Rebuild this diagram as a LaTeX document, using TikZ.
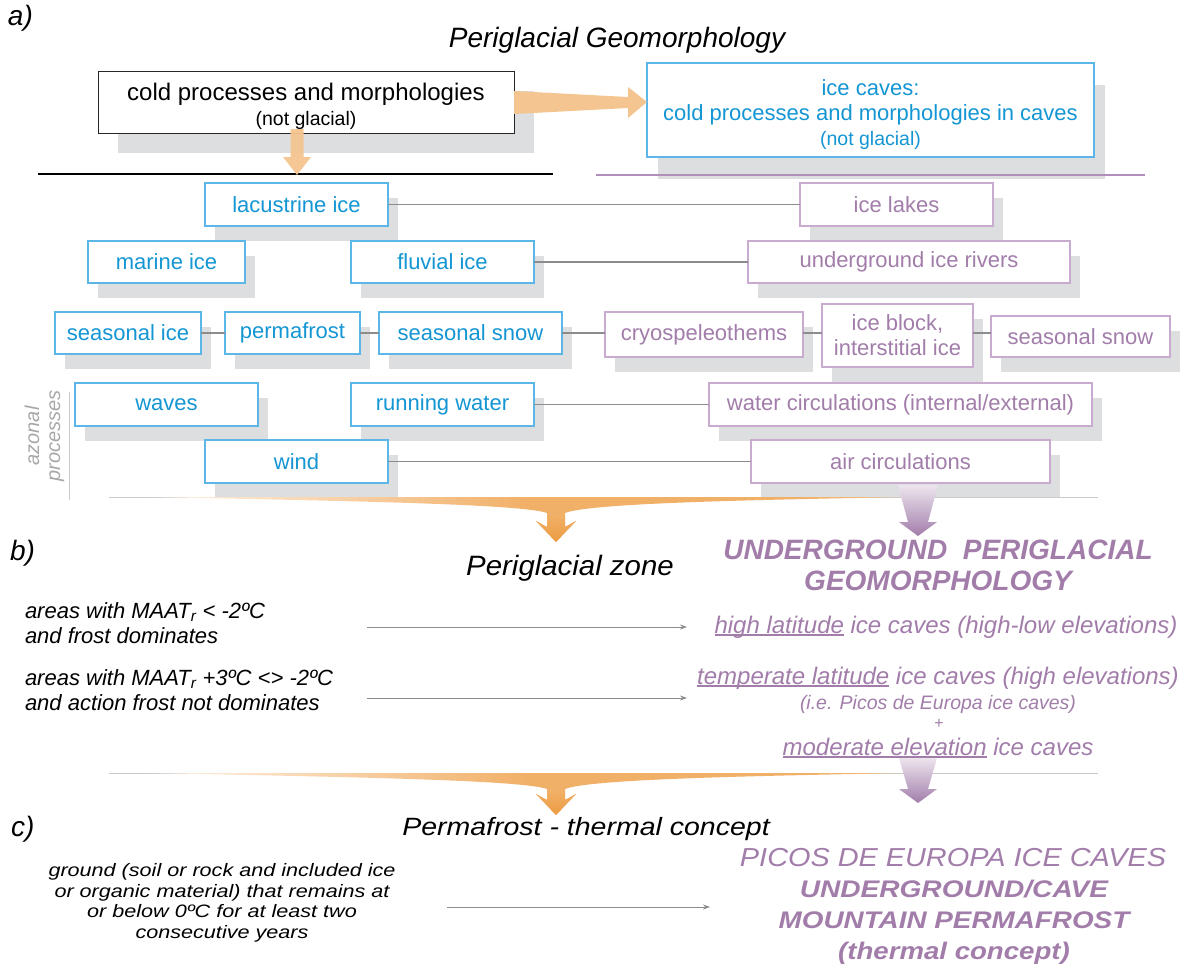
\documentclass[tikz,border=0pt]{standalone}
\usepackage{fontspec}
\setmainfont{Liberation Sans}
\usepackage{graphicx}
\usetikzlibrary{shadows,arrows.meta,calc}
\newcommand{\myul}[1]{\leavevmode\setbox0\hbox{#1}\rlap{\rule[-2.5pt]{\wd0}{1.1pt}}\box0\relax}
\definecolor{cblue}{HTML}{1496D4}
\definecolor{bblue}{HTML}{5DB6E8}
\definecolor{cpurp}{HTML}{A27DAA}
\definecolor{bpurp}{HTML}{C9ABCF}
\definecolor{lpurp}{HTML}{B28FBA}
\definecolor{cgray}{HTML}{8C8C8C}
\definecolor{lgray}{HTML}{CACACA}
\definecolor{azg}{HTML}{A8A8A8}
\definecolor{shad}{HTML}{DDDEE0}
\definecolor{oarr}{HTML}{F4C590}
\definecolor{ofunA}{HTML}{FEF3E7}
\definecolor{ofunB}{HTML}{F1B068}
\definecolor{ofunC}{HTML}{F4BE82}
\definecolor{ohead}{HTML}{EC9B40}
\definecolor{ptop}{HTML}{ECE5EE}
\definecolor{pbot}{HTML}{A27DAA}
\pgfdeclarehorizontalshading{funnelshade}{100bp}{color(0bp)=(ofunA); color(25bp)=(ofunA); color(50bp)=(ofunB); color(68bp)=(ofunB); color(75bp)=(ofunC); color(100bp)=(ofunC)}
\tikzset{
  every node/.style={inner sep=0pt, outer sep=0pt},
  box/.style={draw, line width=1.2pt, fill=white, align=center, font=\fontsize{22}{25}\selectfont},
  smallshadow/.style={drop shadow={shadow xshift=10pt, shadow yshift=-15pt, fill=shad, opacity=1}},
  bigshadow/.style={drop shadow={shadow xshift=20pt, shadow yshift=-20pt, fill=shad, opacity=1}},
  midshadow/.style={drop shadow={shadow xshift=11pt, shadow yshift=-22pt, fill=shad, opacity=1}},
  bluebox/.style={box, smallshadow, draw=bblue, text=cblue},
  purpbox/.style={box, smallshadow, draw=bpurp, text=cpurp},
  link/.style={draw=cgray, line width=1.1pt},
  garrow/.style={draw=cgray, line width=1pt, -{Stealth[length=7pt, width=5pt]}},
  lbl/.style={font=\itshape\fontsize{28}{30}\selectfont},
  btxt/.style={font=\itshape\fontsize{22}{24}\selectfont},
  ptitle/.style={text=cpurp, font=\bfseries\itshape\fontsize{28}{30}\selectfont},
  ptxt/.style={text=cpurp, font=\itshape\fontsize{24}{26}\selectfont},
  psmall/.style={text=cpurp, font=\itshape\fontsize{19.5}{22}\selectfont},
  pbold/.style={text=cpurp, font=\bfseries\itshape\fontsize{24}{26}\selectfont},
}
\begin{document}
\begin{tikzpicture}[x=1pt,y=-1pt]
\fill[white] (0,0) rectangle (1193,964);
\useasboundingbox (0,0) rectangle (1193,964);

% ---------- a) ----------
\node[lbl, anchor=base west] (la) at (8,25) {a)};
\node[lbl, anchor=base] (tA) at (617,47) {Periglacial Geomorphology};

\draw[lgray, line width=1pt] (69,392) -- (69,500);

\node[box, bigshadow, draw=black!85, line width=1pt, minimum width=416pt, minimum height=62pt] (cold) at (306,102)
  {\rule{0pt}{27pt}\fontsize{24}{25}\selectfont cold processes and morphologies\\{\fontsize{19.5}{22}\selectfont (not glacial)}};
\node[box, midshadow, draw=bblue, text=cblue, minimum width=447pt, minimum height=94pt] (icecaves) at (870.5,110)
  {\rule{0pt}{26pt}ice caves:\\cold processes and morphologies in caves\\{\fontsize{19.5}{22}\selectfont (not glacial)}};

% blue boxes
\node[bluebox, minimum width=183pt, minimum height=43pt] (lac) at (296.5,204.5) {lacustrine ice};
\node[bluebox, minimum width=157pt, minimum height=42pt] (mar) at (166.5,262) {marine ice};
\node[bluebox, minimum width=183pt, minimum height=42pt] (flu) at (442.5,262) {fluvial ice};
\node[bluebox, minimum width=146pt, minimum height=42pt] (sice) at (128,333) {seasonal ice};
\node[bluebox, minimum width=135pt, minimum height=42pt] (perm) at (292.5,333) {permafrost};
\node[bluebox, minimum width=183pt, minimum height=42pt] (ssnow) at (470.5,333) {seasonal snow};
\node[bluebox, minimum width=183pt, minimum height=43pt] (wav) at (166.5,404.5) {waves};
\node[bluebox, minimum width=183pt, minimum height=43pt] (run) at (442.5,404.5) {running water};
\node[bluebox, minimum width=183pt, minimum height=43pt] (wind) at (296.5,461.5) {wind};

% purple boxes
\node[purpbox, minimum width=193pt, minimum height=43pt] (lakes) at (896.5,204.5) {ice lakes};
\node[purpbox, minimum width=322pt, minimum height=42pt] (rivers) at (909,262) {underground ice rivers};
\node[purpbox, minimum width=198pt, minimum height=45pt] (cryo) at (704,334.5) {cryospeleothems};
\node[purpbox, minimum width=151pt, minimum height=63pt] (iblock) at (897.5,335.5) {ice block,\\interstitial ice};
\node[purpbox, minimum width=179pt, minimum height=41pt] (psnow) at (1080.5,336.5) {seasonal snow};
\node[purpbox, minimum width=383pt, minimum height=43pt] (wcirc) at (900.5,404.5) {water circulations (internal/external)};
\node[purpbox, minimum width=299pt, minimum height=43pt] (acirc) at (900.5,461.5) {air circulations};

\node[rotate=90, align=center, text=azg, font=\itshape\fontsize{20}{21}\selectfont] (az) at (44.5,436) {azonal\\processes};

% separator lines
\draw[line width=1.8pt] (38,174) -- (553,174);
\draw[lpurp, line width=1.5pt] (596,175) -- (1145,175);
\draw[lgray, line width=1pt] (109,497) -- (1098,497);
\draw[lgray, line width=1pt] (109,773) -- (1098,773);

% connectors
\draw[link] (lac.east) -- (lac.east -| lakes.west);
\draw[link] (flu.east) -- (flu.east -| rivers.west);
\draw[link] (sice.east) -- (sice.east -| perm.west);
\draw[link] (perm.east) -- (perm.east -| ssnow.west);
\draw[link] (ssnow.east) -- (ssnow.east -| cryo.west);
\draw[link] (ssnow.east -| cryo.east) -- (ssnow.east -| iblock.west);
\draw[link] (ssnow.east -| iblock.east) -- (ssnow.east -| psnow.west);
\draw[link] (run.east) -- (run.east -| wcirc.west);
\draw[link] (wind.east) -- (wind.east -| acirc.west);

% orange arrows (top)
\coordinate (rt) at (cold.east -| icecaves.west);
\fill[oarr] ([yshift=11pt]cold.east) -- ($(rt)+(-19,-5)$) -- ($(rt)+(-19,-15)$) -- (rt)
  -- ($(rt)+(-19,16)$) -- ($(rt)+(-19,6)$) -- ([yshift=-12pt]cold.east) -- cycle;
\fill[oarr, opacity=.95] (290.5,129) -- (303.5,129) -- (303.5,157) -- (311,157) -- (297,175) -- (283,157) -- (290.5,157) -- cycle;

% funnels
\shade[shading=funnelshade] (150,497) -- (905,497) .. controls (750,500) and (590,503) .. (565,513)
  -- (565,527) -- (576,521) -- (556,542) -- (536,521) -- (547,527) -- (547,513)
  .. controls (522,504) and (350,501) .. (150,497) -- cycle;
\shade[top color=ofunB, bottom color=ohead] (547,515) -- (565,515) -- (565,527) -- (576,521) -- (556,542) -- (536,521) -- (547,527) -- cycle;
\begin{scope}[shift={(0,276)}]
\shade[shading=funnelshade] (150,497) -- (905,497) .. controls (750,500) and (590,503) .. (565,513)
  -- (565,524) -- (576,518) -- (556,539) -- (536,518) -- (547,524) -- (547,513)
  .. controls (522,504) and (350,501) .. (150,497) -- cycle;
\shade[top color=ofunB, bottom color=ohead] (547,515) -- (565,515) -- (565,524) -- (576,518) -- (556,539) -- (536,518) -- (547,524) -- cycle;
\end{scope}
\shade[top color=ptop, bottom color=pbot] (898,485) -- (938,485) -- (928,522) -- (937,522) -- (918,536) -- (899,522) -- (908,522) -- cycle;
\shade[top color=ptop, bottom color=pbot] (899,758) -- (937,758) -- (928,789) -- (937,789) -- (918,803) -- (899,789) -- (908,789) -- cycle;

% ---------- b) ----------
\node[lbl, anchor=base west] (lb) at (10,560) {b)};
\node[lbl, anchor=base] (pz) at (570,575) {\scalebox{1.05}[1]{Periglacial zone}};
\node[btxt, anchor=base west] (ar1) at (25,618) {areas with MAAT\textsubscript{r} < -2ºC};
\node[btxt, anchor=base west] (ar1b) at (25,643) {and frost dominates};
\node[btxt, anchor=base west] (ar2) at (25,685) {areas with MAAT\textsubscript{r} +3ºC <> -2ºC};
\node[btxt, anchor=base west] (ar2b) at (25,710) {and action frost not dominates};

\node[ptitle, anchor=base] (ug1) at (938,559) {UNDERGROUND~~PERIGLACIAL};
\node[ptitle, anchor=base] (ug2) at (938,590) {GEOMORPHOLOGY};
\node[ptxt, anchor=base] (hl) at (946,633) {\myul{high latitude} ice caves (high-low elevations)};
\node[ptxt, anchor=base] (tl) at (938,684) {\myul{temperate latitude} ice caves (high elevations)};
\node[psmall, anchor=base] (ie) at (938,709) {(i.e. Picos de Europa ice caves)};
\node[text=cpurp, font=\fontsize{16}{18}\selectfont] (plus) at (939,724) {+};
\node[ptxt, anchor=base] (mod) at (938,755) {\myul{moderate elevation} ice caves};

\coordinate (b1s) at (367,627);
\coordinate (b1e) at (687,627);
\coordinate (b2s) at (367,698);
\coordinate (b2e) at (687,698);
\draw[garrow] (b1s) -- (b1e);
\draw[garrow] (b2s) -- (b2e);

% ---------- c) ----------
\node[lbl, anchor=base west] (lc) at (11,836) {c)};
\node[font=\itshape\fontsize{25}{27}\selectfont, anchor=base] (pf) at (586,835) {\scalebox{1.14}[1]{Permafrost - thermal concept}};
\node[font=\itshape\fontsize{18}{20.5}\selectfont] (gr) at (222,903.5) {\scalebox{1.2}[1]{\begin{tabular}{@{}c@{}}ground (soil or rock and included ice\\or organic material) that remains at\\or below 0ºC for at least two\\consecutive years\end{tabular}}};
\coordinate (c1s) at (447,907);
\coordinate (c1e) at (710,907);
\draw[garrow] (c1s) -- (c1e);

\node[text=cpurp, font=\itshape\fontsize{26}{28}\selectfont, anchor=base] (pe1) at (953,866) {\scalebox{1.11}[1]{PICOS DE EUROPA ICE CAVES}};
\node[pbold, anchor=base] (pe2) at (954,897) {\scalebox{1.17}[1]{UNDERGROUND/CAVE}};
\node[pbold, anchor=base] (pe3) at (954,928) {\scalebox{1.16}[1]{MOUNTAIN PERMAFROST}};
\node[pbold, anchor=base] (pe4) at (954,959) {\scalebox{1.15}[1]{(thermal concept)}};
\end{tikzpicture}
\end{document}
